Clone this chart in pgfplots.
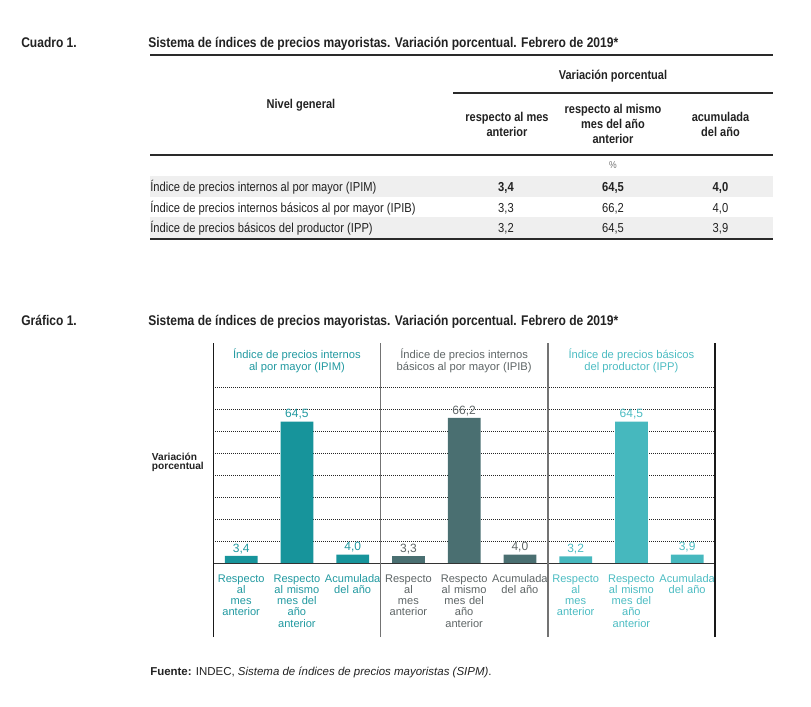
\documentclass[border=0pt]{standalone}
\usepackage{fontspec}
\setmainfont{Liberation Sans}
\newfontfamily\cond[FakeStretch=0.86]{Liberation Sans}
\usepackage{pgfplots}
\pgfplotsset{compat=1.18}
\definecolor{c1}{HTML}{17949B}
\definecolor{c2}{HTML}{4A6F71}
\definecolor{c3}{HTML}{46B8BE}
\definecolor{c1t}{HTML}{2199A0}
\definecolor{c2t}{HTML}{5E6566}
\definecolor{c3t}{HTML}{4CBCC2}
\definecolor{rowgray}{HTML}{EFEFEF}
\definecolor{rulecol}{HTML}{2A2A2A}
\definecolor{txt}{HTML}{222222}
\begin{document}
\begin{tikzpicture}
\begin{scope}[x=0.75pt,y=-0.75pt]
\path[use as bounding box] (0,0) rectangle (811,707);
% ---------- Cuadro 1 (table) ----------
\fill[rowgray] (150,176) rectangle (773,196.7);
\fill[rowgray] (150,217) rectangle (773,238);
\draw[rulecol, line width=1.5pt] (150,55) -- (773,55);
\draw[rulecol, line width=0.8pt] (453,93) -- (773,93);
\draw[rulecol, line width=1.5pt] (150,155) -- (773,155);
\draw[rulecol, line width=1.5pt] (150,238.5) -- (773,238.5);
\begin{scope}[every node/.style={inner sep=0pt, text=txt}]
\node[anchor=base west, font=\cond\bfseries\fontsize{10.5}{12}\selectfont] at (21,47.5) {Cuadro 1.};
\node[anchor=base west, font=\cond\bfseries\fontsize{10.5}{12}\selectfont] at (148,47.5) {Sistema de índices de precios mayoristas. Variación porcentual. Febrero de 2019*};
\begin{scope}[every node/.append style={anchor=base, font=\cond\bfseries\fontsize{9.6}{11}\selectfont}]
\node at (613,79.6) {Variación porcentual};
\node at (301,108.6) {Nivel general};
\node at (507,121.3) {respecto al mes};
\node at (507,136.3) {anterior};
\node at (613,113.6) {respecto al mismo};
\node at (613,128.6) {mes del año};
\node at (613,143.9) {anterior};
\node at (720.5,121.3) {acumulada};
\node at (720.5,136.3) {del año};
\end{scope}
\node[anchor=base, font=\cond\fontsize{7.5}{9}\selectfont, text=black!55] at (613,168.5) {\%};
\begin{scope}[every node/.append style={font=\cond\fontsize{9.75}{11}\selectfont}]
\node[anchor=base west] at (150,191.2) {Índice de precios internos al por mayor (IPIM)};
\node[anchor=base west] at (150,212) {Índice de precios internos básicos al por mayor (IPIB)};
\node[anchor=base west] at (150,232.7) {Índice de precios básicos del productor (IPP)};
\node[anchor=base, font=\cond\bfseries\fontsize{9.75}{11}\selectfont] at (506,191.2) {3,4};
\node[anchor=base, font=\cond\bfseries\fontsize{9.75}{11}\selectfont] at (613,191.2) {64,5};
\node[anchor=base, font=\cond\bfseries\fontsize{9.75}{11}\selectfont] at (720.5,191.2) {4,0};
\node[anchor=base] at (506,212) {3,3};
\node[anchor=base] at (613,212) {66,2};
\node[anchor=base] at (720.5,212) {4,0};
\node[anchor=base] at (506,232.7) {3,2};
\node[anchor=base] at (613,232.7) {64,5};
\node[anchor=base] at (720.5,232.7) {3,9};
\end{scope}
% ---------- Grafico 1 ----------
\node[anchor=base west, font=\cond\bfseries\fontsize{10.5}{12}\selectfont] at (21,325) {Gráfico 1.};
\node[anchor=base west, font=\cond\bfseries\fontsize{10.5}{12}\selectfont] at (148,325) {Sistema de índices de precios mayoristas. Variación porcentual. Febrero de 2019*};
\node[anchor=base west, font=\bfseries\fontsize{7.6}{8}\selectfont] at (151.7,460.3) {Variación};
\node[anchor=base west, font=\bfseries\fontsize{7.6}{8}\selectfont] at (151.7,469.3) {porcentual};
\node[anchor=base west, font=\fontsize{8.6}{10}\selectfont] at (150,675.5) {\textbf{Fuente:} INDEC, \textit{Sistema de índices de precios mayoristas (SIPM)}.};
\end{scope}
\end{scope}
\begin{axis}[
  at={({213.3*0.75pt},{-563.3*0.75pt})}, anchor=south west,
  width=376.3pt, height=165.45pt, scale only axis,
  xmin=-0.5, xmax=8.5, ymin=0, ymax=100.5,
  axis line style={draw=none},
  major tick length=0pt,
  ytick={10,20,...,80}, yticklabel=\empty,
  ymajorgrids,
  grid style={dash pattern=on 0.6pt off 0.9pt, line width=0.7pt, black!85},
  xtick={0,...,8},
  xticklabels={
    \color{c1t}Respecto\\al\\mes\\anterior,
    \color{c1t}Respecto\\al mismo\\mes del\\año\\anterior,
    \color{c1t}Acumulada\\del año,
    \color{c2t}Respecto\\al\\mes\\anterior,
    \color{c2t}Respecto\\al mismo\\mes del\\año\\anterior,
    \color{c2t}Acumulada\\del año,
    \color{c3t}Respecto\\al\\mes\\anterior,
    \color{c3t}Respecto\\al mismo\\mes del\\año\\anterior,
    \color{c3t}Acumulada\\del año},
  xticklabel style={text width=60pt, align=center, inner sep=0pt, anchor=north, yshift=-8.3pt,
    font=\fontsize{8.3}{8.4}\selectfont},
  clip=false,
  ybar, bar width=0.587,
  nodes near coords={\pgfmathprintnumber[assume math mode=true,fixed,fixed zerofill,precision=1,use comma]{\pgfplotspointmeta}},
  nodes near coords style={font=\fontsize{9}{10}\selectfont, inner sep=1.5pt},
]
\addplot[fill=c1, draw=none, bar shift=0pt, every node near coord/.append style={text=c1t}]
  coordinates {(0,3.4) (1,64.5) (2,4.0)};
\addplot[fill=c2, draw=none, bar shift=0pt, every node near coord/.append style={text=c2t}]
  coordinates {(3,3.3) (4,66.2) (5,4.0)};
\addplot[fill=c3, draw=none, bar shift=0pt, every node near coord/.append style={text=c3t}]
  coordinates {(6,3.2) (7,64.5) (8,3.9)};
\draw[black!80, line width=0.8pt] (axis cs:-0.5,0) -- (axis cs:8.5,0);
\draw[black!90, line width=1.1pt] (axis cs:-0.5,-33.6) -- (axis cs:-0.5,100.5);
\draw[black!55, line width=1.3pt] (axis cs:2.5,-33.6) -- (axis cs:2.5,100.5);
\draw[black!55, line width=1.3pt] (axis cs:5.5,-33.6) -- (axis cs:5.5,100.5);
\draw[black!90, line width=1.1pt] (axis cs:8.5,-33.6) -- (axis cs:8.5,100.5);
\begin{scope}[every node/.style={align=center, inner sep=0pt, font=\fontsize{8.4}{9}\selectfont}]
\node[text=c1t] at (axis cs:1,92.3) {Índice de precios internos\\al por mayor (IPIM)};
\node[text=c2t] at (axis cs:4,92.3) {Índice de precios internos\\básicos al por mayor (IPIB)};
\node[text=c3t] at (axis cs:7,92.3) {Índice de precios básicos\\del productor (IPP)};
\end{scope}
\end{axis}
\end{tikzpicture}
\end{document}
